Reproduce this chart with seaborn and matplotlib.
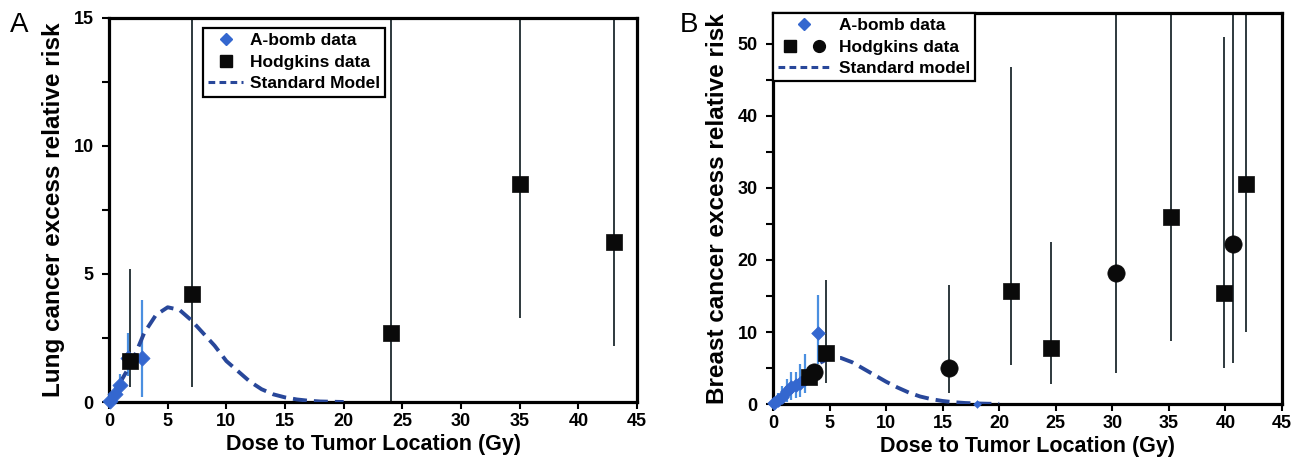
import numpy as np
import pandas as pd
import matplotlib
matplotlib.use("Agg")
import matplotlib.pyplot as plt
import seaborn as sns
from matplotlib.lines import Line2D
from matplotlib.legend_handler import HandlerTuple
from matplotlib.ticker import MultipleLocator

# ---------------- Panel A (lung) ----------------
abomb_a_x = [0.05, 0.5, 0.9, 1.6, 2.8]
abomb_a_y = [0.05, 0.3, 0.65, 1.7, 1.7]
abomb_a_lo = [0.0, 0.1, 0.3, 1.0, 0.2]
abomb_a_hi = [0.2, 0.6, 1.1, 2.7, 4.0]

hodg_a_x = [1.8, 7.1, 24.0, 35.0, 43.0]
hodg_a_y = [1.6, 4.2, 2.7, 8.5, 6.25]
hodg_a_lo = [0.6, 0.6, 0.0, 3.3, 2.2]
hodg_a_hi = [5.2, 16.0, 16.0, 16.0, 16.0]

model_a_x = [0, 1, 2, 3, 4, 5, 6, 7, 8, 9, 10, 11, 12, 13, 14, 15, 16, 17, 18, 19, 20]
model_a_y = [0.0, 0.8, 1.6, 2.7, 3.4, 3.7, 3.6, 3.2, 2.7, 2.2, 1.6, 1.2, 0.8, 0.5,
             0.3, 0.18, 0.1, 0.05, 0.02, 0.01, 0.0]

# ---------------- Panel B (breast) ----------------
abomb_b_x = [0.1, 0.4, 0.8, 1.2, 1.6, 2.0, 2.4, 2.8, 4.0]
abomb_b_y = [0.1, 0.5, 1.0, 1.8, 2.3, 2.6, 2.9, 3.5, 9.8]
abomb_b_lo = [0.0, 0.0, 0.0, 0.3, 0.5, 0.8, 1.0, 1.5, 5.5]
abomb_b_hi = [0.4, 1.5, 2.5, 3.5, 4.5, 4.5, 5.5, 7.0, 15.2]
abomb_b_far_x = [18.0]
abomb_b_far_y = [0.05]

hodg_b_sq_x = [3.2, 4.7, 21.0, 24.6, 35.2, 39.9, 41.8]
hodg_b_sq_y = [3.8, 7.1, 15.7, 7.8, 26.0, 15.4, 30.5]
hodg_b_sq_lo = [3.0, 2.9, 5.4, 2.8, 8.8, 5.0, 10.0]
hodg_b_sq_hi = [4.6, 17.2, 46.8, 22.5, 60.0, 51.0, 60.0]

hodg_b_ci_x = [3.6, 15.6, 30.3, 40.7]
hodg_b_ci_y = [4.4, 5.0, 18.2, 22.2]
hodg_b_ci_lo = [3.8, 1.5, 4.3, 5.7]
hodg_b_ci_hi = [5.0, 16.5, 60.0, 60.0]

model_b_x = [0, 1, 2, 3, 4, 5, 6, 7, 8, 9, 10, 11, 12, 13, 14, 15, 16, 17, 18, 19, 20]
model_b_y = [0.0, 1.1, 2.4, 4.0, 5.6, 6.4, 6.4, 5.8, 4.9, 4.0, 3.1, 2.3, 1.6, 1.05,
             0.68, 0.42, 0.25, 0.14, 0.08, 0.04, 0.02]

sns.set_style("white")
plt.rcParams["font.family"] = ["Liberation Sans", "DejaVu Sans"]
plt.rcParams["font.weight"] = "bold"
for k in ["text.color", "axes.labelcolor", "xtick.color", "ytick.color"]:
    plt.rcParams[k] = "black"

DIAM = "#3467cf"
EBLUE = "#4a8fe0"
MODEL = "#28479a"
BLACK = "#0a0a0a"
EBLACK = "#1e2a2e"

fig = plt.figure(figsize=(13.04, 4.72), dpi=100)
axA = fig.add_axes([0.0836, 0.1483, 0.4049, 0.8136])
axB = fig.add_axes([0.5928, 0.1440, 0.3903, 0.8285])


def errbars(ax, x, y, lo, hi, color, lw=1.3):
    x = np.asarray(x); y = np.asarray(y)
    yerr = np.vstack([y - np.asarray(lo), np.asarray(hi) - y])
    ax.errorbar(x, y, yerr=yerr, fmt="none", ecolor=color, elinewidth=lw, capsize=0, zorder=2)


def model(ax, x, y):
    sns.lineplot(x=x, y=y, ax=ax, color=MODEL, lw=2.8, zorder=3, legend=False)
    ln = ax.lines[-1]
    ln.set_dashes([3.6, 1.8])
    ln.set_dash_capstyle("butt")


def style(ax, ylim, ymaj, ymin, ylabel):
    ax.set_xlim(0, 45)
    ax.set_ylim(*ylim)
    ax.xaxis.set_major_locator(MultipleLocator(5))
    ax.yaxis.set_major_locator(MultipleLocator(ymaj))
    ax.yaxis.set_minor_locator(MultipleLocator(ymin))
    for s in ax.spines.values():
        s.set_visible(True)
        s.set_linewidth(2.3)
        s.set_color("black")
    ax.tick_params(axis="both", which="major", direction="out", length=5, width=1.5,
                   labelsize=13, bottom=True, left=True, top=False, right=False,
                   color="black", labelcolor="black", pad=3)
    ax.tick_params(axis="y", which="major", pad=6)
    ax.tick_params(axis="y", which="minor", direction="out", length=5, width=1.5,
                   left=True, right=False, color="black")
    for lab in ax.get_xticklabels() + ax.get_yticklabels():
        lab.set_fontweight("bold")
    ax.set_xlabel("Dose to Tumor Location (Gy)", fontsize=15.5, fontweight="bold",
                  labelpad=3, color="black")
    ax.set_ylabel(ylabel, fontsize=17.5, fontweight="bold", labelpad=6, color="black")
    ax.set_facecolor("white")


# ---- Panel A ----
errbars(axA, hodg_a_x, hodg_a_y, hodg_a_lo, hodg_a_hi, EBLACK)
errbars(axA, abomb_a_x, abomb_a_y, abomb_a_lo, abomb_a_hi, EBLUE, lw=1.6)
model(axA, model_a_x, model_a_y)
sns.scatterplot(x=abomb_a_x, y=abomb_a_y, ax=axA, marker="D", s=60, color=DIAM,
                edgecolor=DIAM, linewidth=0.5, zorder=4, clip_on=False, legend=False)
sns.scatterplot(x=hodg_a_x, y=hodg_a_y, ax=axA, marker="s", s=125, color=BLACK,
                edgecolor=BLACK, linewidth=0.5, zorder=5, clip_on=False, legend=False)
style(axA, (0, 15), 5, 2.5, "Lung cancer excess relative risk")

hA = [Line2D([], [], marker="D", ls="none", color=DIAM, markersize=6.5),
      Line2D([], [], marker="s", ls="none", color=BLACK, markersize=8.5),
      Line2D([], [], color=MODEL, lw=2.2, dashes=[2.2, 1.4])]
legA = axA.legend(hA, ["A-bomb data", "Hodgkins data", "Standard Model"],
                  loc="upper left", bbox_to_anchor=(0.178, 0.975), fancybox=False,
                  framealpha=1, edgecolor="black", fontsize=12.5, handlelength=2.0,
                  handletextpad=0.4, labelspacing=0.38, borderpad=0.3, borderaxespad=0)
legA.get_frame().set_linewidth(1.6)
for t in legA.get_texts():
    t.set_fontweight("bold")

# ---- Panel B ----
errbars(axB, hodg_b_sq_x, hodg_b_sq_y, hodg_b_sq_lo, hodg_b_sq_hi, EBLACK)
errbars(axB, hodg_b_ci_x, hodg_b_ci_y, hodg_b_ci_lo, hodg_b_ci_hi, EBLACK)
errbars(axB, abomb_b_x, abomb_b_y, abomb_b_lo, abomb_b_hi, EBLUE, lw=1.6)
model(axB, model_b_x, model_b_y)
sns.scatterplot(x=abomb_b_x, y=abomb_b_y, ax=axB, marker="D", s=48, color=DIAM,
                edgecolor=DIAM, linewidth=0.5, zorder=4, clip_on=False, legend=False)
sns.scatterplot(x=abomb_b_far_x, y=abomb_b_far_y, ax=axB, marker="D", s=16, color=DIAM,
                edgecolor=DIAM, linewidth=0.3, zorder=4, clip_on=False, legend=False)
sns.scatterplot(x=hodg_b_sq_x, y=hodg_b_sq_y, ax=axB, marker="s", s=125, color=BLACK,
                edgecolor=BLACK, linewidth=0.5, zorder=5, clip_on=False, legend=False)
sns.scatterplot(x=hodg_b_ci_x, y=hodg_b_ci_y, ax=axB, marker="o", s=155, color=BLACK,
                edgecolor=BLACK, linewidth=0.5, zorder=5, clip_on=False, legend=False)
style(axB, (0, 54.3), 10, 5, "Breast cancer excess relative risk")

hB = [Line2D([], [], marker="D", ls="none", color=DIAM, markersize=6.5),
      (Line2D([], [], marker="s", ls="none", color=BLACK, markersize=8.5),
       Line2D([], [], marker="o", ls="none", color=BLACK, markersize=8.5)),
      Line2D([], [], color=MODEL, lw=2.2, dashes=[2.2, 1.4])]
legB = axB.legend(hB, ["A-bomb data", "Hodgkins data", "Standard model"],
                  loc="upper left", bbox_to_anchor=(0.0, 1.0), fancybox=False,
                  framealpha=1, edgecolor="black", fontsize=12.5, handlelength=3.0,
                  handletextpad=0.5, labelspacing=0.36, borderpad=0.3, borderaxespad=0,
                  handler_map={tuple: HandlerTuple(ndivide=None, pad=0.4)})
legB.get_frame().set_linewidth(1.6)
for t in legB.get_texts():
    t.set_fontweight("bold")

fig.text(0.008, 0.975, "A", fontsize=20, fontweight="normal", va="top", ha="left")
fig.text(0.521, 0.975, "B", fontsize=20, fontweight="normal", va="top", ha="left")

fig.savefig("out.png", dpi=100, facecolor="white")
